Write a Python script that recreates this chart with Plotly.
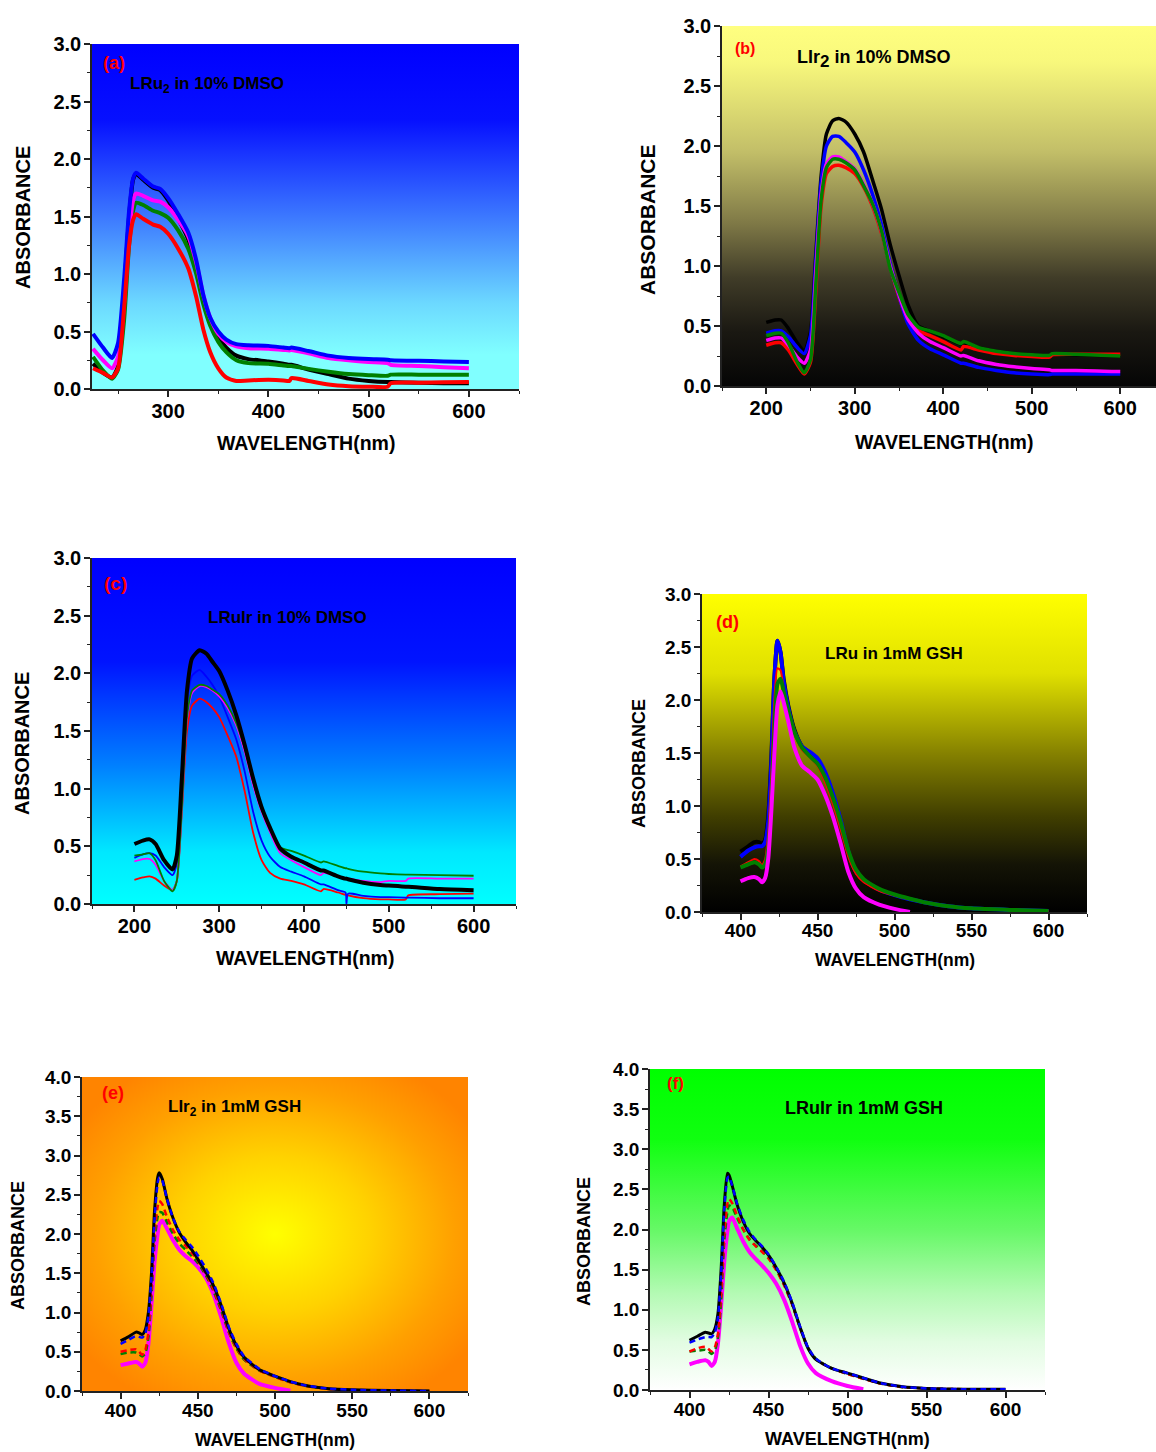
import base64
import plotly.graph_objects as go

W, H = 1156, 1452
FONT = "Liberation Sans, Arial, sans-serif"

# ---------------- data ----------------
# (a) LRu2 in 10% DMSO
A_wl = [225, 235, 244, 250, 256, 261, 265, 268, 275, 285, 292, 300, 310, 320, 328, 335, 342, 350, 358, 368,
        380, 400, 415, 421, 423, 440, 460, 480, 500, 519, 522, 550, 575, 600]
A_black = [0.22, 0.14, 0.10, 0.20, 0.85, 1.50, 1.82, 1.87, 1.82, 1.75, 1.73, 1.64, 1.48, 1.30, 1.05, 0.78, 0.58, 0.45,
           0.36, 0.29, 0.26, 0.24, 0.22, 0.21, 0.21, 0.17, 0.13, 0.09, 0.07, 0.06, 0.06, 0.055, 0.05, 0.05]
A_green = [0.28, 0.16, 0.09, 0.17, 0.60, 1.25, 1.55, 1.62, 1.60, 1.55, 1.53, 1.49, 1.38, 1.22, 1.00, 0.74, 0.55, 0.41,
           0.32, 0.25, 0.225, 0.22, 0.205, 0.20, 0.20, 0.175, 0.15, 0.13, 0.12, 0.115, 0.125, 0.125, 0.125, 0.125]
A_magenta = [0.35, 0.25, 0.18, 0.28, 0.75, 1.35, 1.64, 1.70, 1.68, 1.64, 1.63, 1.58, 1.47, 1.33, 1.10, 0.82, 0.62, 0.48,
             0.41, 0.37, 0.355, 0.35, 0.34, 0.335, 0.34, 0.31, 0.27, 0.25, 0.235, 0.225, 0.21, 0.20, 0.19, 0.18]
A_blue = [0.48, 0.36, 0.27, 0.40, 0.95, 1.55, 1.83, 1.88, 1.83, 1.76, 1.74, 1.66, 1.52, 1.36, 1.12, 0.82, 0.62, 0.50,
          0.43, 0.39, 0.38, 0.375, 0.36, 0.355, 0.36, 0.33, 0.29, 0.27, 0.26, 0.255, 0.25, 0.245, 0.24, 0.235]
A_red = [0.18, 0.14, 0.10, 0.18, 0.70, 1.25, 1.47, 1.52, 1.48, 1.43, 1.41, 1.35, 1.22, 1.05, 0.80, 0.52, 0.32, 0.18,
         0.10, 0.07, 0.075, 0.08, 0.075, 0.07, 0.095, 0.07, 0.04, 0.025, 0.02, 0.02, 0.05, 0.055, 0.058, 0.06]

# (b) LIr2 in 10% DMSO
B_wl = [200, 210, 217, 225, 235, 243, 250, 256, 262, 268, 275, 282, 290, 300, 310, 320, 330, 340, 350, 360, 372,
        385, 400, 420, 423, 440, 460, 480, 500, 520, 523, 550, 600]
B_black = [0.53, 0.55, 0.55, 0.48, 0.36, 0.29, 0.45, 1.10, 1.75, 2.10, 2.21, 2.23, 2.20, 2.10, 1.95, 1.72, 1.48, 1.18,
           0.92, 0.68, 0.50, 0.46, 0.41, 0.35, 0.36, 0.32, 0.29, 0.27, 0.26, 0.25, 0.265, 0.26, 0.25]
B_red = [0.34, 0.36, 0.36, 0.30, 0.18, 0.10, 0.20, 0.80, 1.50, 1.77, 1.83, 1.84, 1.82, 1.77, 1.66, 1.50, 1.28, 1.00,
         0.74, 0.55, 0.46, 0.42, 0.37, 0.30, 0.33, 0.30, 0.27, 0.255, 0.245, 0.24, 0.26, 0.265, 0.265]
B_blue = [0.44, 0.46, 0.46, 0.41, 0.32, 0.27, 0.42, 1.05, 1.70, 2.00, 2.08, 2.08, 2.03, 1.95, 1.80, 1.60, 1.35, 1.02,
          0.75, 0.52, 0.38, 0.31, 0.26, 0.19, 0.19, 0.155, 0.13, 0.11, 0.10, 0.095, 0.10, 0.10, 0.10]
B_magenta = [0.38, 0.40, 0.40, 0.34, 0.24, 0.19, 0.30, 0.95, 1.60, 1.85, 1.91, 1.91, 1.87, 1.81, 1.68, 1.52, 1.30, 1.00,
             0.76, 0.56, 0.44, 0.37, 0.32, 0.25, 0.255, 0.21, 0.18, 0.16, 0.145, 0.135, 0.13, 0.13, 0.12]
B_green = [0.42, 0.44, 0.44, 0.36, 0.20, 0.11, 0.22, 0.85, 1.55, 1.82, 1.89, 1.89, 1.86, 1.80, 1.67, 1.52, 1.30, 0.98,
           0.78, 0.60, 0.49, 0.46, 0.42, 0.355, 0.37, 0.32, 0.29, 0.27, 0.26, 0.255, 0.27, 0.265, 0.25]

# (c) LRuIr in 10% DMSO
C_wl = [200, 210, 218, 225, 235, 245, 250, 256, 262, 268, 277, 285, 292, 300, 310, 320, 330, 340, 350, 360, 372,
        385, 400, 420, 423, 440, 449, 450, 452, 470, 490, 500, 520, 523, 560, 600]
C_red = [0.21, 0.23, 0.24, 0.22, 0.16, 0.12, 0.20, 0.80, 1.50, 1.72, 1.78, 1.75, 1.70, 1.62, 1.46, 1.28, 0.98, 0.62,
         0.38, 0.27, 0.22, 0.20, 0.17, 0.11, 0.13, 0.10, 0.08, 0.08, 0.075, 0.05, 0.04, 0.04, 0.04, 0.075, 0.085, 0.09]
C_blue = [0.40, 0.43, 0.44, 0.42, 0.32, 0.25, 0.35, 1.00, 1.75, 1.98, 2.03, 1.97, 1.90, 1.80, 1.62, 1.43, 1.15, 0.80,
          0.55, 0.41, 0.32, 0.28, 0.24, 0.17, 0.17, 0.12, 0.10, 0.00, 0.09, 0.07, 0.06, 0.06, 0.055, 0.055, 0.05, 0.05]
C_magenta = [0.37, 0.39, 0.39, 0.34, 0.20, 0.12, 0.20, 0.85, 1.60, 1.83, 1.89, 1.88, 1.85, 1.80, 1.70, 1.55, 1.32,
             1.03, 0.80, 0.62, 0.44, 0.38, 0.32, 0.25, 0.27, 0.24, 0.22, 0.22, 0.22, 0.20, 0.19, 0.20, 0.20, 0.22,
             0.22, 0.22]
C_green = [0.42, 0.43, 0.44, 0.38, 0.20, 0.11, 0.20, 0.85, 1.62, 1.85, 1.90, 1.89, 1.86, 1.82, 1.72, 1.57, 1.35, 1.06,
           0.82, 0.66, 0.49, 0.46, 0.42, 0.36, 0.37, 0.33, 0.31, 0.31, 0.305, 0.28, 0.265, 0.26, 0.255, 0.255, 0.25,
           0.245]
C_black = [0.52, 0.55, 0.56, 0.52, 0.38, 0.30, 0.42, 1.10, 1.85, 2.13, 2.20, 2.17, 2.10, 2.02, 1.85, 1.64, 1.38, 1.09,
           0.84, 0.66, 0.48, 0.41, 0.36, 0.29, 0.29, 0.24, 0.22, 0.22, 0.215, 0.185, 0.165, 0.16, 0.15, 0.15, 0.13,
           0.12]

# (d) LRu in 1mM GSH
D_wl = [400, 405, 409, 412, 414, 416, 418, 420, 422, 424, 426, 428, 431, 435, 440, 445, 450, 455, 460, 465, 470,
        475, 480, 490, 500, 510, 520, 535, 550, 575, 600]
D_black = [0.57, 0.62, 0.66, 0.66, 0.64, 0.68, 0.90, 1.45, 2.20, 2.56, 2.45, 2.20, 1.95, 1.72, 1.56, 1.50, 1.43, 1.30,
           1.10, 0.85, 0.55, 0.37, 0.29, 0.21, 0.16, 0.12, 0.09, 0.055, 0.035, 0.02, 0.01]
D_blue = [0.52, 0.58, 0.61, 0.62, 0.62, 0.66, 0.85, 1.40, 2.20, 2.56, 2.45, 2.18, 1.93, 1.70, 1.56, 1.51, 1.45, 1.32,
          1.12, 0.87, 0.57, 0.38, 0.30, 0.21, 0.16, 0.12, 0.09, 0.055, 0.035, 0.02, 0.01]
D_red = [0.43, 0.47, 0.50, 0.48, 0.44, 0.50, 0.75, 1.30, 2.00, 2.30, 2.28, 2.10, 1.88, 1.68, 1.53, 1.46, 1.38, 1.22,
         1.02, 0.78, 0.52, 0.36, 0.28, 0.20, 0.155, 0.12, 0.09, 0.055, 0.035, 0.02, 0.01]
D_green = [0.42, 0.45, 0.47, 0.45, 0.42, 0.45, 0.60, 1.00, 1.70, 2.15, 2.20, 2.08, 1.90, 1.70, 1.55, 1.47, 1.40, 1.27,
           1.08, 0.85, 0.58, 0.40, 0.31, 0.22, 0.165, 0.125, 0.09, 0.055, 0.035, 0.02, 0.01]
D_magenta = [0.29, 0.32, 0.33, 0.31, 0.28, 0.32, 0.50, 0.95, 1.50, 1.95, 2.08, 1.98, 1.80, 1.55, 1.38, 1.32, 1.25, 1.10,
             0.90, 0.65, 0.38, 0.22, 0.14, 0.07, 0.03, 0.00, None, None, None, None, None]

# (e) LIr2 in 1mM GSH
E_wl = [400, 405, 410, 412, 414, 416, 418, 420, 422, 424, 425, 427, 430, 434, 438, 442, 446, 450, 455, 460, 465, 470,
        475, 480, 490, 500, 510, 520, 535, 550, 575, 600]
E_magenta = [0.33, 0.35, 0.37, 0.35, 0.31, 0.36, 0.60, 1.10, 1.65, 2.00, 2.12, 2.17, 2.07, 1.92, 1.80, 1.72, 1.66, 1.58,
             1.45, 1.24, 0.95, 0.62, 0.36, 0.22, 0.09, 0.04, 0.005, None, None, None, None, None]
E_green = [0.47, 0.49, 0.49, 0.47, 0.44, 0.48, 0.68, 1.20, 1.90, 2.22, 2.28, 2.27, 2.15, 2.00, 1.88, 1.80, 1.72, 1.63,
           1.48, 1.28, 1.03, 0.75, 0.54, 0.40, 0.26, 0.18, 0.11, 0.065, 0.025, 0.01, 0.005, 0.0]
E_red = [0.50, 0.52, 0.53, 0.50, 0.46, 0.52, 0.75, 1.30, 2.00, 2.35, 2.42, 2.38, 2.22, 2.05, 1.93, 1.85, 1.76, 1.66,
         1.50, 1.30, 1.05, 0.76, 0.55, 0.41, 0.26, 0.18, 0.11, 0.065, 0.025, 0.01, 0.005, 0.0]
E_black = [0.64, 0.69, 0.75, 0.74, 0.72, 0.78, 1.00, 1.50, 2.30, 2.72, 2.78, 2.70, 2.45, 2.20, 2.02, 1.90, 1.80, 1.68,
           1.52, 1.35, 1.10, 0.80, 0.58, 0.43, 0.27, 0.19, 0.12, 0.07, 0.03, 0.015, 0.005, 0.0]
E_blue = [0.60, 0.65, 0.70, 0.69, 0.68, 0.73, 0.95, 1.45, 2.20, 2.65, 2.72, 2.68, 2.45, 2.20, 2.03, 1.93, 1.84, 1.73,
          1.57, 1.38, 1.12, 0.82, 0.60, 0.44, 0.28, 0.19, 0.12, 0.07, 0.03, 0.015, 0.005, 0.0]

# (f) LRuIr in 1mM GSH
F_wl = E_wl
F_magenta = [0.32, 0.35, 0.37, 0.35, 0.30, 0.35, 0.58, 1.05, 1.60, 1.98, 2.10, 2.15, 2.02, 1.85, 1.72, 1.63, 1.55, 1.46,
             1.32, 1.12, 0.85, 0.55, 0.33, 0.21, 0.11, 0.05, 0.01, None, None, None, None, None]
F_green = [0.48, 0.49, 0.50, 0.48, 0.45, 0.49, 0.65, 1.10, 1.85, 2.22, 2.30, 2.28, 2.15, 2.00, 1.88, 1.80, 1.73, 1.65,
           1.50, 1.31, 1.07, 0.78, 0.53, 0.39, 0.27, 0.20, 0.14, 0.085, 0.035, 0.02, 0.01, 0.01]
F_red = [0.48, 0.52, 0.54, 0.51, 0.48, 0.53, 0.70, 1.20, 1.95, 2.32, 2.38, 2.33, 2.18, 2.00, 1.87, 1.79, 1.72, 1.64,
         1.49, 1.30, 1.06, 0.77, 0.52, 0.38, 0.27, 0.20, 0.14, 0.085, 0.035, 0.02, 0.01, 0.01]
F_black = [0.62, 0.67, 0.72, 0.71, 0.70, 0.76, 0.95, 1.50, 2.30, 2.70, 2.68, 2.55, 2.32, 2.10, 1.95, 1.86, 1.78, 1.68,
           1.52, 1.33, 1.08, 0.78, 0.52, 0.38, 0.27, 0.21, 0.15, 0.09, 0.04, 0.02, 0.01, 0.01]
F_blue = [0.59, 0.63, 0.66, 0.66, 0.66, 0.71, 0.90, 1.45, 2.25, 2.64, 2.66, 2.55, 2.33, 2.12, 1.97, 1.87, 1.79, 1.69,
          1.53, 1.34, 1.09, 0.79, 0.53, 0.39, 0.27, 0.21, 0.15, 0.09, 0.04, 0.02, 0.01, 0.01]

# ---------------- styling helpers ----------------
BLACK, BLUE, MAGENTA, GREEN, RED = "#000000", "#0000FF", "#FF00FF", "#008000", "#FF0000"


def px_x(x):
    return x / W


def px_y(y):
    return 1 - y / H


def svg_uri(svg):
    return "data:image/svg+xml;base64," + base64.b64encode(svg.encode()).decode()


def linear_bg(stops):
    st = "".join(f'<stop offset="{o}" stop-color="{c}"/>' for o, c in stops)
    svg = ('<svg xmlns="http://www.w3.org/2000/svg" width="200" height="200" viewBox="0 0 200 200" '
           'preserveAspectRatio="none"><defs><linearGradient id="g" x1="0" y1="0" x2="0" y2="1">'
           f'{st}</linearGradient></defs><rect width="200" height="200" fill="url(#g)"/></svg>')
    return svg_uri(svg)


def radial_bg(stops):
    st = "".join(f'<stop offset="{o}" stop-color="{c}"/>' for o, c in stops)
    svg = ('<svg xmlns="http://www.w3.org/2000/svg" width="200" height="200" viewBox="0 0 200 200" '
           'preserveAspectRatio="none"><defs><radialGradient id="g" cx="0.5" cy="0.5" r="0.62">'
           f'{st}</radialGradient></defs><rect width="200" height="200" fill="url(#g)"/></svg>')
    return svg_uri(svg)


panels = [
    dict(box=(92, 44, 519, 389), xr=[224, 650], yr=[0, 3], dx=100, mx=50, dy=0.5, my=0.25, fs=20, so=-3,
         bg=linear_bg([(0, "#0000FF"), (0.22, "#0610FF"), (0.5, "#3C78FF"), (0.75, "#6CD8FF"), (0.9, "#80FFFF"),
                       (1, "#80FFFF")]),
         series=[(A_wl, A_black, BLACK, 4, "solid"), (A_wl, A_green, GREEN, 4, "solid"),
                 (A_wl, A_magenta, MAGENTA, 4, "solid"), (A_wl, A_blue, BLUE, 4, "solid"),
                 (A_wl, A_red, RED, 4, "solid")]),
    dict(box=(722, 26, 1156, 386), xr=[150, 640.4], yr=[0, 3], dx=100, mx=50, dy=0.5, my=0.25, fs=20, so=-3,
         bg=linear_bg([(0, "#FFFF80"), (0.1, "#F8F87C"), (0.35, "#C2BE68"), (0.55, "#7E7846"),
                       (0.7, "#403C28"), (0.85, "#1A1812"), (1, "#050505")]),
         series=[(B_wl, B_black, BLACK, 3.5, "solid"), (B_wl, B_red, RED, 3.5, "solid"),
                 (B_wl, B_blue, BLUE, 3.5, "solid"), (B_wl, B_magenta, MAGENTA, 3.5, "solid"),
                 (B_wl, B_green, GREEN, 3.5, "solid")]),
    dict(box=(92, 558, 516, 904), xr=[150, 650], yr=[0, 3], dx=100, mx=50, dy=0.5, my=0.25, fs=20, so=-3,
         bg=linear_bg([(0, "#0000FF"), (0.3, "#0014FF"), (0.6, "#0080FF"), (0.85, "#00E8FF"), (1, "#00FFFF")]),
         series=[(C_wl, C_red, RED, 1.8, "solid"), (C_wl, C_blue, BLUE, 1.8, "solid"),
                 (C_wl, C_magenta, MAGENTA, 1.8, "solid"), (C_wl, C_green, GREEN, 1.8, "solid"),
                 (C_wl, C_black, BLACK, 4, "solid")]),
    dict(box=(702, 594, 1087, 912), xr=[375, 625], yr=[0, 3], dx=50, mx=25, dy=0.5, my=0.25, fs=19, so=-6,
         bg=linear_bg([(0, "#FFFF00"), (0.25, "#E0E000"), (0.5, "#868200"), (0.7, "#403E00"),
                       (0.85, "#141406"), (1, "#000000")]),
         series=[(D_wl, D_black, BLACK, 4, "solid"), (D_wl, D_blue, BLUE, 4, "solid"),
                 (D_wl, D_red, RED, 2, "solid"), (D_wl, D_green, GREEN, 4, "solid"),
                 (D_wl, D_magenta, MAGENTA, 4, "solid")]),
    dict(box=(82, 1077, 468, 1391), xr=[375, 625], yr=[0, 4], dx=50, mx=25, dy=0.5, my=0.25, fs=19, so=-5,
         bg=radial_bg([(0, "#FFFF00"), (0.4, "#FFD200"), (0.75, "#FFA000"), (1, "#FF8400")]),
         series=[(E_wl, E_magenta, MAGENTA, 4, "solid"), (E_wl, E_green, GREEN, 2.5, "6px,4px"),
                 (E_wl, E_red, RED, 2.5, "6px,4px"), (E_wl, E_black, BLACK, 3, "solid"),
                 (E_wl, E_blue, BLUE, 2.5, "6px,4px")]),
    dict(box=(650, 1069, 1045, 1390), xr=[375, 625], yr=[0, 4], dx=50, mx=25, dy=0.5, my=0.25, fs=19, so=-5,
         bg=linear_bg([(0, "#00FF00"), (0.22, "#10FF10"), (0.5, "#66F866"), (0.7, "#B4FAB4"),
                       (0.85, "#E2FCE2"), (1, "#FFFFFF")]),
         series=[(F_wl, F_magenta, MAGENTA, 4, "solid"), (F_wl, F_green, GREEN, 2.5, "6px,4px"),
                 (F_wl, F_red, RED, 2.5, "6px,4px"), (F_wl, F_black, BLACK, 3, "solid"),
                 (F_wl, F_blue, BLUE, 2.5, "6px,4px")]),
]

fig = go.Figure()
layout = dict(width=W, height=H, margin=dict(l=0, r=0, t=0, b=0, pad=0, autoexpand=False),
              paper_bgcolor="white", plot_bgcolor="rgba(0,0,0,0)", showlegend=False, images=[], annotations=[])

for i, p in enumerate(panels, start=1):
    xn = "xaxis" if i == 1 else f"xaxis{i}"
    yn = "yaxis" if i == 1 else f"yaxis{i}"
    xid = "x" if i == 1 else f"x{i}"
    yid = "y" if i == 1 else f"y{i}"
    x0, y0, x1, y1 = p["box"]
    tickfont = dict(family=FONT, size=p["fs"], color="black", weight="bold")
    layout[xn] = dict(domain=[px_x(x0), min(1.0, px_x(x1))], range=p["xr"], anchor=yid, dtick=p["dx"], tick0=0,
                      ticks="outside", ticklen=6, tickwidth=1.5, tickcolor="#222", showline=True,
                      linecolor="#222", linewidth=1.5, showgrid=False, zeroline=False, tickfont=tickfont,
                      automargin=False, ticklabelstandoff=p["so"],
                      minor=dict(dtick=p["mx"], tick0=0, ticks="outside", ticklen=3, tickwidth=1,
                                 tickcolor="#222", showgrid=False), fixedrange=True)
    layout[yn] = dict(domain=[px_y(y1), px_y(y0)], range=p["yr"], anchor=xid, dtick=p["dy"], tick0=0,
                      tickformat=".1f", ticks="outside", ticklen=6, tickwidth=1.5, tickcolor="#222",
                      showline=True, linecolor="#222", linewidth=1.5, showgrid=False, zeroline=False,
                      tickfont=tickfont, automargin=False, ticklabelstandoff=-1,
                      minor=dict(dtick=p["my"], tick0=0, ticks="outside", ticklen=3, tickwidth=1,
                                 tickcolor="#222", showgrid=False), fixedrange=True)
    layout["images"].append(dict(source=p["bg"], xref=xid, yref=yid, x=p["xr"][0], y=p["yr"][1],
                                 sizex=p["xr"][1] - p["xr"][0], sizey=p["yr"][1] - p["yr"][0],
                                 xanchor="left", yanchor="top", sizing="stretch", layer="below"))
    for wl, ab, col, lw, dash in p["series"]:
        fig.add_trace(go.Scatter(x=wl, y=ab, mode="lines", xaxis=xid, yaxis=yid, connectgaps=False,
                                 line=dict(color=col, width=lw, dash=dash, shape="spline", smoothing=0.6),
                                 hoverinfo="skip"))


def ann(text, x, y, size, color="black", xanchor="center", angle=0):
    layout["annotations"].append(dict(text=text, x=px_x(x), y=px_y(y), xref="paper", yref="paper",
                                      showarrow=False, xanchor=xanchor, yanchor="middle", textangle=angle,
                                      font=dict(family=FONT, size=size, color=color, weight="bold")))


# panel labels
ann("(a)", 114, 63, 18, RED)
ann("(b)", 745, 49, 16, RED)
ann("(c)", 115, 583, 19, RED)
ann("(d)", 727, 622, 18, RED)
ann("(e)", 113, 1093, 18, RED)
ann("(f)", 675, 1083, 17, RED)

# in-plot titles
ann("LRu<sub>2</sub> in 10% DMSO", 128, 85, 17, xanchor="left")
ann('LIr<sub><span style="font-size:17px">2</span></sub> in 10% DMSO', 795, 59, 18, xanchor="left")
ann("LRuIr in 10% DMSO", 206, 617, 17, xanchor="left")
ann("LRu in 1mM GSH", 823, 653, 17, xanchor="left")
ann("LIr<sub>2</sub> in 1mM GSH", 166, 1108, 17, xanchor="left")
ann("LRuIr in 1mM GSH", 783, 1108, 18, xanchor="left")

# axis titles
ann("ABSORBANCE", 23, 218, 20, angle=-90)
ann("WAVELENGTH(nm)", 306, 443, 19.5)
ann("ABSORBANCE", 648, 220, 21, angle=-90)
ann("WAVELENGTH(nm)", 944, 442, 19.5)
ann("ABSORBANCE", 22, 744, 20, angle=-90)
ann("WAVELENGTH(nm)", 305, 958, 19.5)
ann("ABSORBANCE", 639, 764, 18, angle=-90)
ann("WAVELENGTH(nm)", 895, 960, 17.5)
ann("ABSORBANCE", 18, 1246, 18, angle=-90)
ann("WAVELENGTH(nm)", 275, 1440, 17.5)
ann("ABSORBANCE", 584, 1242, 18, angle=-90)
ann("WAVELENGTH(nm)", 847, 1439, 18)

fig.update_layout(**layout)
fig.write_html("out.html")
